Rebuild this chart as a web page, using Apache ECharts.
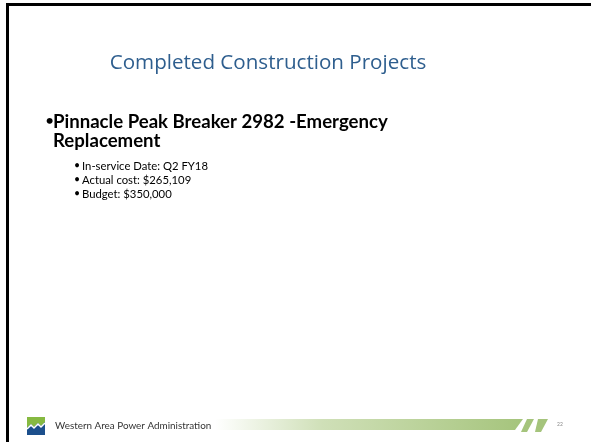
<!DOCTYPE html>
<html>
<head>
<meta charset="utf-8">
<script src="https://cdn.jsdelivr.net/npm/echarts@6/dist/echarts.min.js"></script>
<style>html,body{margin:0;padding:0;background:#fff}#c{width:591px;height:442px}</style>
</head>
<body>
<div id="c"></div>
<script>
const titleText = "Completed Construction Projects";
const mainBullet = ["Pinnacle Peak Breaker 2982 -Emergency", "Replacement"];
const subBullets = ["In-service Date: Q2 FY18", "Actual cost: $265,109", "Budget: $350,000"];
const footerText = "Western Area Power Administration";
const pageNumber = "22";

const FONT = "Lato, 'Open Sans', sans-serif";
const TFONT = "'Open Sans', Lato, sans-serif";
const chart = echarts.init(document.getElementById('c'), null, {renderer: 'canvas'});

const elements = [];
// slide frame
elements.push({type: 'rect', shape: {x: 0, y: 0, width: 591, height: 442}, style: {fill: '#fff'}, z: 0});
elements.push({type: 'rect', shape: {x: 6, y: 3, width: 585, height: 3}, style: {fill: '#000'}, z: 1});
elements.push({type: 'rect', shape: {x: 6, y: 3, width: 3, height: 439}, style: {fill: '#000'}, z: 1});

// title
elements.push({type: 'text', style: {text: titleText, x: 268, y: 63, fontSize: 20.6, fontFamily: TFONT, fontWeight: 'normal', fill: '#2E5E8E', align: 'center', verticalAlign: 'middle'}, z: 2});

// main bullet
elements.push({type: 'text', style: {text: '•', x: 45, y: 121, fontSize: 16, fontFamily: FONT, fill: '#000', verticalAlign: 'middle'}, z: 2});
mainBullet.forEach((t, i) => {
  elements.push({type: 'text', style: {text: t, x: 53, y: 122 + i * 18.5, fontSize: 18.6, fontFamily: FONT, fontWeight: 'bold', fill: '#000', verticalAlign: 'middle'}, z: 2});
});
// sub bullets
subBullets.forEach((t, i) => {
  const y = 166 + i * 14;
  elements.push({type: 'text', style: {text: '•', x: 74, y: y, fontSize: 10.5, fontFamily: FONT, fill: '#000', verticalAlign: 'middle'}, z: 2});
  elements.push({type: 'text', style: {text: t, x: 82, y: y, fontSize: 11.3, fontFamily: FONT, fill: '#000', verticalAlign: 'middle'}, z: 2});
});

// footer logo
elements.push({type: 'rect', shape: {x: 27, y: 417, width: 18, height: 18}, style: {fill: '#1C4F8C'}, z: 2});
elements.push({type: 'polygon', shape: {points: [[27,417],[45,417],[45,422],[41,426],[38,423],[34,427],[31,424],[27,428]]}, style: {fill: '#86B941'}, z: 3});
elements.push({type: 'polyline', shape: {points: [[27,429],[31,425],[34,428],[38,424],[41,427],[45,423]]}, style: {stroke: '#fff', lineWidth: 1.5, fill: null}, z: 4});

elements.push({type: 'text', style: {text: footerText, x: 55, y: 426, fontSize: 9.9, fontFamily: FONT, fill: '#333', verticalAlign: 'middle'}, z: 2});

// footer gradient bar
const green = '#A5C47C';
elements.push({type: 'polygon', shape: {points: [[215,419],[523,419],[515,430],[215,430]]}, style: {fill: new echarts.graphic.LinearGradient(0, 0, 1, 0, [{offset: 0, color: 'rgba(168,198,125,0)'}, {offset: 0.35, color: 'rgba(168,198,125,0.55)'}, {offset: 1, color: green}])}, z: 2});
elements.push({type: 'polygon', shape: {points: [[527,419],[534,419],[527,432],[521,432]]}, style: {fill: green}, z: 2});
elements.push({type: 'polygon', shape: {points: [[538,419],[548,419],[541,432],[535,432]]}, style: {fill: green}, z: 2});
elements.push({type: 'text', style: {text: pageNumber, x: 557, y: 424, fontSize: 5, fontFamily: FONT, fill: '#888', verticalAlign: 'middle'}, z: 2});

chart.setOption({
  animation: false,
  graphic: {elements: elements}
});
</script>
</body>
</html>
